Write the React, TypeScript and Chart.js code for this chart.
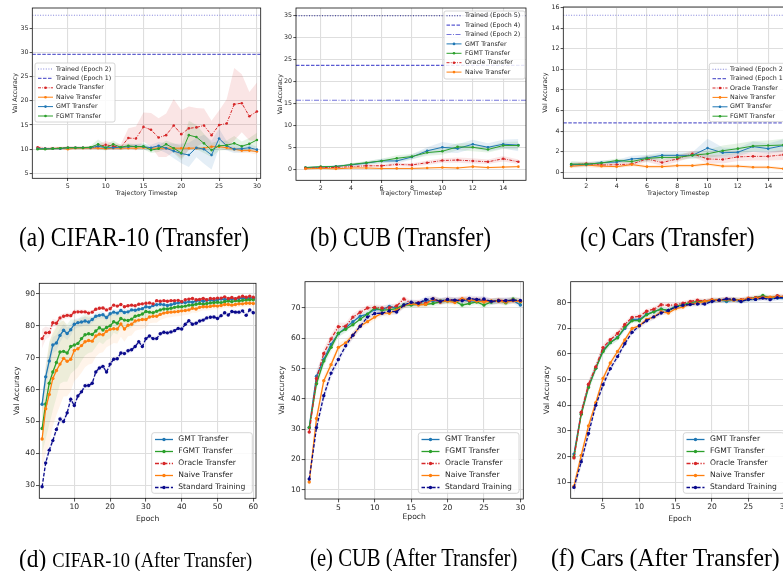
import React, { useEffect, useRef } from 'react';
import { Chart, registerables } from 'chart.js';

Chart.register(...registerables);

const CW = 810;
const CH = 571;
const FONT = '"DejaVu Sans", sans-serif';
const TXT = '#262626';
const GRID = '#dedede';

const BLUE = '#1f77b4';
const ORANGE = '#ff7f0e';
const GREEN = '#2ca02c';
const RED = '#d62728';
const NAVY = '#0a0a8c';

// ---------- (a) CIFAR-10 (Transfer) ----------
const A_steps = [1,2,3,4,5,6,7,8,9,10,11,12,13,14,15,16,17,18,19,20,21,22,23,24,25,26,27,28,29,30];
const A_xTicks = [5,10,15,20,25,30];
const A_yTicks = [5,10,15,20,25,30,35];
const A_trainedE2 = 37.7;
const A_trainedE1 = 29.6;
const A_oracle = [10.4,10.1,10.2,10.2,10.3,10.3,10.3,10.3,10.5,10.9,10.6,10.4,12.3,12.2,14.6,14.0,12.4,12.9,14.9,13.1,14.3,14.5,14.9,12.9,15.0,15.3,19.3,19.5,16.8,17.8];
const A_naive = [10.1,10.1,10.1,10.2,10.0,10.2,10.2,10.2,10.2,10.1,10.2,10.2,10.2,10.2,10.3,10.2,10.2,10.2,10.2,10.2,10.2,10.2,10.2,10.5,10.5,10.3,10.0,9.7,9.7,9.5];
const A_gmt = [10.1,10.1,10.1,10.1,10.3,10.3,10.3,10.3,10.6,10.3,10.3,10.4,10.5,10.6,10.5,10.3,10.7,10.2,9.6,9.1,8.8,10.3,10.0,8.8,12.2,10.7,10.0,10.1,10.3,9.9];
const A_fgmt = [10.0,10.0,10.1,10.2,10.3,10.3,10.3,10.4,11.0,10.3,11.0,10.4,10.7,10.5,10.6,9.8,10.1,11.0,10.2,9.2,12.9,12.5,11.2,9.8,10.7,10.8,11.2,10.6,11.1,11.9];
const A_oracle_sd = [0.3,0.3,0.3,0.3,0.3,0.3,0.3,0.3,0.5,0.8,0.6,0.6,2.0,2.5,3.0,3.5,4.0,4.5,5.5,5.0,4.5,4.0,3.5,3.0,3.0,5.0,7.5,6.0,5.0,6.0];
const A_naive_sd = [0.2,0.2,0.2,0.2,0.2,0.2,0.2,0.2,0.2,0.2,0.2,0.2,0.2,0.2,0.2,0.2,0.2,0.2,0.2,0.2,0.2,0.3,0.3,0.4,0.4,0.4,0.5,0.5,0.5,0.6];
const A_gmt_sd = [0.2,0.2,0.2,0.2,0.2,0.2,0.2,0.2,0.6,0.4,0.4,0.4,0.5,0.5,0.6,0.6,0.8,1.0,1.5,2.0,2.5,2.0,3.0,3.0,2.0,1.0,0.8,0.8,0.8,0.6];
const A_fgmt_sd = [0.2,0.2,0.2,0.2,0.2,0.2,0.2,0.3,1.0,0.6,0.8,0.5,0.5,0.5,0.6,0.6,0.7,0.8,1.0,1.5,3.0,2.5,2.0,1.5,1.0,1.0,1.5,1.0,1.2,1.5];

// ---------- (b) CUB (Transfer) ----------
const B_steps = [1,2,3,4,5,6,7,8,9,10,11,12,13,14,15];
const B_xTicks = [2,4,6,8,10,12,14];
const B_yTicks = [0,5,10,15,20,25,30,35];
const B_trainedE5 = 35.0;
const B_trainedE4 = 23.7;
const B_trainedE2 = 15.8;
const B_gmt = [0.5,0.6,0.8,1.1,1.5,2.0,2.0,2.9,4.3,5.1,4.8,5.8,5.1,5.8,5.6];
const B_fgmt = [0.5,0.7,0.7,1.2,1.6,2.0,2.6,3.0,3.9,4.2,5.2,5.1,4.6,5.5,5.5];
const B_oracle = [0.3,0.5,0.5,0.7,0.9,0.9,1.2,1.1,1.6,2.1,2.2,2.0,1.8,2.5,1.8];
const B_naive = [0.2,0.3,0.2,0.4,0.4,0.3,0.3,0.3,0.4,0.5,0.4,0.7,0.5,0.6,0.7];
const B_gmt_sd = [0.1,0.2,0.2,0.3,0.4,0.5,0.6,0.6,0.8,1.2,1.0,1.0,0.9,1.0,1.4];
const B_fgmt_sd = [0.1,0.2,0.2,0.3,0.4,0.5,0.7,0.6,0.7,0.8,0.8,0.9,0.7,0.8,0.9];
const B_oracle_sd = [0.1,0.1,0.2,0.2,0.3,0.3,0.4,0.4,0.5,0.5,0.6,0.6,0.5,0.6,0.5];
const B_naive_sd = [0.1,0.1,0.1,0.1,0.1,0.1,0.1,0.1,0.1,0.2,0.2,0.2,0.2,0.2,0.2];

// ---------- (c) Cars (Transfer) ----------
const C_steps = [1,2,3,4,5,6,7,8,9,10,11,12,13,14,15];
const C_xTicks = [2,4,6,8,10,12,14];
const C_yTicks = [0,2,4,6,8,10,12,14,16];
const C_trainedE2 = 15.25;
const C_trainedE1 = 4.8;
const C_oracle = [0.7,0.85,0.7,0.75,0.8,1.3,0.95,1.3,1.8,1.3,1.25,1.5,1.55,1.55,1.7];
const C_naive = [0.6,0.7,0.6,0.55,0.75,0.55,0.55,0.65,0.65,0.8,0.6,0.6,0.5,0.5,0.35];
const C_gmt = [0.75,0.75,0.95,1.0,1.3,1.4,1.65,1.65,1.65,2.35,1.9,1.95,2.5,2.3,2.6];
const C_fgmt = [0.8,0.8,0.9,1.15,1.05,1.35,1.45,1.45,1.65,1.8,2.1,2.3,2.55,2.6,2.65];
const C_oracle_sd = [0.2,0.2,0.2,0.2,0.2,0.3,0.3,0.3,0.3,0.4,0.4,0.4,0.4,0.4,0.5];
const C_naive_sd = [0.2,0.2,0.2,0.15,0.15,0.15,0.15,0.15,0.15,0.15,0.15,0.15,0.15,0.15,0.15];
const C_gmt_sd = [0.2,0.2,0.2,0.2,0.3,0.3,0.3,0.3,0.3,0.9,0.5,0.4,0.5,0.5,0.6];
const C_fgmt_sd = [0.3,0.2,0.2,0.2,0.2,0.3,0.3,0.3,0.3,0.4,0.5,0.5,0.5,0.5,0.6];

// ---------- (d) CIFAR-10 (After Transfer) ----------
const D_epochs = [1,2,3,4,5,6,7,8,9,10,11,12,13,14,15,16,17,18,19,20,21,22,23,24,25,26,27,28,29,30,
  31,32,33,34,35,36,37,38,39,40,41,42,43,44,45,46,47,48,49,50,51,52,53,54,55,56,57,58,59,60];
const D_xTicks = [10,20,30,40,50,60];
const D_yTicks = [30,40,50,60,70,80,90];
const D_gmt = [55.4,64.0,69.0,74.0,74.6,77.0,78.6,77.6,78.8,80.5,
  81.0,81.2,81.5,81.2,82.0,83.0,83.3,83.5,82.6,83.8,
  84.3,84.0,84.8,84.2,84.4,85.0,84.9,85.2,85.4,86.0,
  85.8,86.4,86.6,86.8,86.6,86.4,86.6,87.0,87.2,87.4,
  87.3,87.6,87.4,87.8,88.0,87.7,88.0,88.1,87.9,88.2,
  88.4,88.3,88.2,88.5,88.4,88.6,88.7,88.6,88.8,88.6];
const D_fgmt = [47.8,55.5,62.0,65.5,68.5,71.8,72.0,71.5,73.5,74.0,
  74.5,76.0,77.2,77.5,77.3,78.4,79.4,78.7,79.5,80.0,
  81.3,80.8,82.3,81.8,81.7,82.1,83.0,83.3,83.7,84.5,
  84.3,84.1,84.6,85.0,85.3,85.3,85.5,85.8,86.0,86.0,
  86.2,86.5,86.5,86.8,87.0,86.8,87.0,87.2,87.3,87.4,
  87.3,87.6,87.8,87.6,87.9,87.8,88.0,88.1,88.2,88.2];
const D_oracle = [76.0,77.8,77.9,81.0,80.8,82.5,83.0,83.3,83.2,84.3,
  84.4,84.4,84.4,84.0,84.3,85.2,85.5,85.6,85.0,85.4,
  86.5,86.2,86.7,86.0,86.3,86.5,86.3,86.8,86.9,87.1,
  87.2,86.9,87.9,87.7,87.9,87.7,87.9,87.9,88.0,87.6,
  88.2,88.4,88.6,88.2,88.3,88.6,88.2,88.6,88.5,88.7,
  88.7,89.1,88.6,88.9,88.5,89.0,89.3,89.0,89.3,89.0];
const D_naive = [44.5,54.0,58.5,63.5,66.0,68.0,69.8,68.9,69.5,72.3,
  72.8,73.8,75.0,75.4,75.2,76.8,77.4,77.2,78.3,78.9,
  79.1,79.0,80.6,79.0,80.2,80.5,81.5,81.8,82.0,82.0,
  82.8,83.0,83.0,83.6,84.0,84.2,84.3,84.4,84.5,84.7,
  84.8,85.0,85.5,85.3,85.8,86.0,86.0,86.1,86.3,86.2,
  86.4,86.7,86.7,86.5,86.7,86.9,86.9,87.1,87.1,87.0];
const D_standard = [29.5,37.0,41.0,44.0,47.5,50.8,50.0,52.7,57.0,55.0,
  58.0,59.3,61.2,61.3,62.0,65.5,66.8,67.3,65.5,68.0,
  69.5,69.7,71.5,71.3,72.2,72.5,73.5,75.0,73.5,76.0,
  76.8,76.0,76.0,77.5,78.0,77.8,78.1,78.5,79.2,79.0,
  80.5,81.6,80.5,80.8,81.5,81.8,82.5,82.7,82.8,82.3,
  83.2,84.1,83.4,84.5,84.3,84.3,84.7,83.3,85.0,84.1];
const D_gmt_sd = [3,3,3,2.5,2.5,2.2,2,2,1.8,1.6,
  1.5,1.5,1.4,1.3,1.2,1.2,1.1,1.1,1,1,
  1,1,0.9,0.9,0.9,0.8,0.8,0.8,0.8,0.8,
  0.7,0.7,0.7,0.7,0.7,0.7,0.7,0.7,0.7,0.7,
  0.7,0.7,0.7,0.7,0.7,0.7,0.7,0.7,0.7,0.7,
  0.6,0.6,0.6,0.6,0.6,0.6,0.6,0.6,0.6,0.6];
const D_fgmt_sd = [8,11,13,12,11,10,9.5,9,8.5,8,
  7.5,7,6.5,6,5.5,5,4.5,4.5,4,4,
  3.5,3.5,3,3,2.8,2.6,2.4,2.2,2,2,
  1.6,1.6,1.5,1.5,1.4,1.4,1.3,1.3,1.2,1.2,
  1.1,1.1,1,1,1,1,1,1,1,1,
  0.9,0.9,0.9,0.9,0.9,0.9,0.9,0.9,0.9,0.9];
const D_oracle_sd = [3,2,1.5,1.2,1,1,0.9,0.9,0.8,0.8,
  0.7,0.7,0.7,0.7,0.6,0.6,0.6,0.6,0.6,0.6,
  0.5,0.5,0.5,0.5,0.5,0.5,0.5,0.5,0.5,0.5,
  0.5,0.5,0.5,0.5,0.5,0.5,0.5,0.5,0.5,0.5,
  0.5,0.5,0.5,0.5,0.5,0.5,0.5,0.5,0.5,0.5,
  0.5,0.5,0.5,0.5,0.5,0.5,0.5,0.5,0.5,0.5];
const D_naive_sd = [10,14,16,15,14,13,12,11,10,9.5,
  9,8.5,8,7.5,7,6.5,6,5.5,5,5,
  4.5,4.5,4,4,3.5,3.5,3,3,3,2.5,
  2,2,2,1.8,1.8,1.6,1.6,1.5,1.5,1.5,
  1.4,1.4,1.3,1.3,1.3,1.2,1.2,1.2,1.1,1.1,
  1,1,1,1,1,1,1,1,1,1];
const D_standard_sd = [1.2,1.2,1.2,1.1,1.1,1,1,1,1,1,
  0.8,0.8,0.8,0.8,0.8,0.8,0.8,0.8,0.8,0.8,
  0.8,0.8,0.8,0.8,0.8,0.8,0.8,0.8,0.8,0.8,
  0.7,0.7,0.7,0.7,0.7,0.7,0.7,0.7,0.7,0.7,
  0.7,0.7,0.7,0.7,0.7,0.7,0.7,0.7,0.7,0.7,
  0.7,0.7,0.7,0.7,0.7,0.7,0.7,0.7,0.7,0.7];

// ---------- (e) CUB (After Transfer) ----------
const E_epochs = [1,2,3,4,5,6,7,8,9,10,11,12,13,14,15,16,17,18,19,20,21,22,23,24,25,26,27,28,29,30];
const E_xTicks = [5,10,15,20,25,30];
const E_yTicks = [10,20,30,40,50,60,70];
const E_gmt = [30.5,47.5,53,58,61.5,63.5,65.5,67.3,68,69.5,69.5,70.5,70,71,71.5,71.5,72.5,72.3,72.5,72.5,72.4,72.6,72.3,72.4,72.5,72,72.3,72.5,72.5,71];
const E_fgmt = [30.5,45,52.5,57,61.7,63,64.5,66.3,68,70,69.3,69.5,69.8,71,71,71.3,71.2,71.5,72,72.3,72.3,71,71.5,72,71,72,72.5,71.7,73,72];
const E_oracle = [29,46.7,55,59.8,63.8,64,67,68.6,70,70.2,70,70.1,70.7,73,71.6,71.8,71.6,72.8,72,72.8,72.5,73,72.5,72.8,72.6,72.2,72.6,72.4,72.6,72.2];
const E_naive = [12.5,33.5,46,51.3,57,58.5,61,64,65.5,67,68.3,68.3,69.3,70.8,71.5,71,71.2,73,72.3,72.3,71.8,73,72.8,72.3,72,72.3,72.2,72,72.4,72.2];
const E_standard = [13.5,30.5,41,48.5,53,57.5,61,64,67,68.2,68.3,69,68.7,71,71.9,71.6,72.8,73.1,72.2,72.8,72.6,72.4,73.2,72.8,73,72.2,72.4,72.4,72.6,72.5];
const E_spread = [2.5,2,1.8,1.5,1.3,1.2,1.2,1.1,1,1,1,1,1,1,1,1,1,1,1,1,1,1,1,1,1,1,1,1,1,1];

// ---------- (f) Cars (After Transfer) ----------
const F_epochs = [1,2,3,4,5,6,7,8,9,10,11,12,13,14,15,16,17,18,19,20,21,22,23,24,25,26,27,28,29,30];
const F_xTicks = [5,10,15,20,25,30];
const F_yTicks = [10,20,30,40,50,60,70,80];
const F_gmt = [21,37,47.5,54.5,61.5,64.5,66.5,70,73.5,73.5,75.5,76.5,77.5,77,78.7,79,79.5,80,80.5,80.7,81,80.5,81,80.5,81.2,81.3,82,81.5,81.8,81.6];
const F_fgmt = [20,36.5,47,54.5,61,64.5,66.3,70.5,73,73,75.3,76.5,77.5,77,78.5,79.3,80,80.5,80.5,81,81,81,81.3,81,81.5,82,82.8,82,82.5,82];
const F_oracle = [19.5,37.3,48.2,55,62.5,65.6,68,71.5,74.3,74.7,76.7,77.5,79.2,79,79.2,79.8,80.5,81,80.7,81.2,81,81.5,81.3,81.2,81.8,82,82.2,82,82.7,82.5];
const F_naive = [8.5,20.5,32,41,50.5,56.5,61,65.5,70,71,73.5,74.5,76.5,76,77.7,78.3,79.5,79.8,80.5,81,81,81.2,81,81,81.6,81.7,82,82.2,82.3,82.3];
const F_standard = [8,18,29,40,48,54.3,59,64,68.5,71,73,74.5,76,77,78.3,79,79.3,79.5,79.5,80.5,81,81.5,81.3,80.5,81.3,81.3,81.8,81.2,82,82];
const F_spread = [2.5,2,1.8,1.6,1.4,1.3,1.2,1.1,1,1,1,1,1,1,1,0.9,0.9,0.9,0.9,0.9,0.9,0.9,0.9,0.9,0.9,0.9,0.9,0.9,0.9,0.9];

const CAPTIONS_TOP = ['(a) CIFAR-10 (Transfer)', '(b) CUB (Transfer)', '(c) Cars (Transfer)'];

// ---------- line styles ----------
const DOT = [1, 1.6];
const DASH = [3.5, 1.5];
const DASHDOT_T = [5, 1.5, 1, 1.5];
const ORACLE_T = [3, 1.3, 0.8, 1.3];
const ORACLE_B = [4, 1.6, 1.2, 1.6];
const STD_DASH = [3.5, 1.8];

type Item = { label: string; color: string; dash?: number[]; values?: number[]; sd?: number[]; level?: number; width?: number };
type LegendBox = { x: number; y: number; w: number; h: number; row0: number; rowH: number; h0: number; h1: number; tx: number; r: number };
type Panel = {
  L: number; T: number; R: number; B: number;
  xMin: number; xMax: number; yMin: number; yMax: number;
  xs: number[]; xTicks: number[]; yTicks: number[];
  font: number; xTitle: string; yTitle: string; yTitleX: number; xTitleY: number;
  lineW: number; markerR: number; tickLen: number; tickPad: number; bandAlpha: number;
  items: Item[]; legend: LegendBox;
};

const TOP = { font: 6.3, lineW: 1.0, markerR: 1.3, tickLen: 2.7, tickPad: 1.2, bandAlpha: 0.12 };
const BOT = { font: 7.6, lineW: 1.3, markerR: 1.7, tickLen: 3.3, tickPad: 1.0, bandAlpha: 0.085 };

const panels: Panel[] = [
  {
    ...TOP, L: 32.3, T: 8, R: 260.7, B: 178.3, xMin: 0.3, xMax: 30.5, yMin: 3.97, yMax: 39.2,
    xs: A_steps, xTicks: A_xTicks, yTicks: A_yTicks, xTitle: 'Trajectory Timestep', yTitle: 'Val Accuracy', yTitleX: 15, xTitleY: 193.3,
    items: [
      { label: 'Trained (Epoch 2)', color: '#8282da', dash: DOT, level: A_trainedE2, width: 1.1 },
      { label: 'Trained (Epoch 1)', color: '#6262cf', dash: DASH, level: A_trainedE1, width: 1.2 },
      { label: 'Oracle Transfer', color: RED, dash: ORACLE_T, values: A_oracle, sd: A_oracle_sd },
      { label: 'Naive Transfer', color: ORANGE, values: A_naive, sd: A_naive_sd },
      { label: 'GMT Transfer', color: BLUE, values: A_gmt, sd: A_gmt_sd },
      { label: 'FGMT Transfer', color: GREEN, values: A_fgmt, sd: A_fgmt_sd },
    ],
    legend: { x: 35, y: 63, w: 80, h: 59, row0: 69, rowH: 9.4, h0: 38, h1: 53, tx: 56, r: 2 },
  },
  {
    ...TOP, L: 296, T: 8, R: 526, B: 180.3, xMin: 0.375, xMax: 15.5, yMin: -2.4, yMax: 36.75,
    xs: B_steps, xTicks: B_xTicks, yTicks: B_yTicks, xTitle: 'Trajectory Timestep', yTitle: 'Val Accuracy', yTitleX: 280, xTitleY: 193,
    items: [
      { label: 'Trained (Epoch 5)', color: '#22228a', dash: DOT, level: B_trainedE5, width: 1.1 },
      { label: 'Trained (Epoch 4)', color: '#5a5ad2', dash: DASH, level: B_trainedE4, width: 1.2 },
      { label: 'Trained (Epoch 2)', color: '#7676da', dash: DASHDOT_T, level: B_trainedE2, width: 1.1 },
      { label: 'GMT Transfer', color: BLUE, values: B_gmt, sd: B_gmt_sd },
      { label: 'FGMT Transfer', color: GREEN, values: B_fgmt, sd: B_fgmt_sd },
      { label: 'Oracle Transfer', color: RED, dash: ORACLE_T, values: B_oracle, sd: B_oracle_sd },
      { label: 'Naive Transfer', color: ORANGE, values: B_naive, sd: B_naive_sd },
    ],
    legend: { x: 444, y: 11, w: 81, h: 68, row0: 15.7, rowH: 9.4, h0: 446.5, h1: 461.5, tx: 465, r: 2 },
  },
  {
    ...TOP, L: 563.3, T: 7, R: 793, B: 178.3, xMin: 0.48, xMax: 15.64, yMin: -0.58, yMax: 16.05,
    xs: C_steps, xTicks: C_xTicks, yTicks: C_yTicks, xTitle: 'Trajectory Timestep', yTitle: 'Val Accuracy', yTitleX: 545, xTitleY: 193,
    items: [
      { label: 'Trained (Epoch 2)', color: '#8282da', dash: DOT, level: C_trainedE2, width: 1.1 },
      { label: 'Trained (Epoch 1)', color: '#6262cf', dash: DASH, level: C_trainedE1, width: 1.2 },
      { label: 'Oracle Transfer', color: RED, dash: ORACLE_T, values: C_oracle, sd: C_oracle_sd },
      { label: 'Naive Transfer', color: ORANGE, values: C_naive, sd: C_naive_sd },
      { label: 'GMT Transfer', color: BLUE, values: C_gmt, sd: C_gmt_sd },
      { label: 'FGMT Transfer', color: GREEN, values: C_fgmt, sd: C_fgmt_sd },
    ],
    legend: { x: 709.3, y: 63.3, w: 80, h: 58.4, row0: 69.2, rowH: 9.4, h0: 712.5, h1: 727.5, tx: 730, r: 2 },
  },
  {
    ...BOT, L: 39.3, T: 283.3, R: 256, B: 498.3, xMin: 0.22, xMax: 60.75, yMin: 25.9, yMax: 93.35,
    xs: D_epochs, xTicks: D_xTicks, yTicks: D_yTicks, xTitle: 'Epoch', yTitle: 'Val Accuracy', yTitleX: 16.7, xTitleY: 519,
    items: [
      { label: 'GMT Transfer', color: BLUE, values: D_gmt, sd: D_gmt_sd },
      { label: 'FGMT Transfer', color: GREEN, values: D_fgmt, sd: D_fgmt_sd },
      { label: 'Oracle Transfer', color: RED, dash: ORACLE_B, values: D_oracle, sd: D_oracle_sd },
      { label: 'Naive Transfer', color: ORANGE, values: D_naive, sd: D_naive_sd },
      { label: 'Standard Training', color: NAVY, dash: STD_DASH, values: D_standard, sd: D_standard_sd },
    ],
    legend: { x: 151.7, y: 432.7, w: 100.6, h: 60.6, row0: 439.5, rowH: 12, h0: 155, h1: 173, tx: 178.3, r: 2.5 },
  },
  {
    ...BOT, L: 305, T: 281.7, R: 523.3, B: 499, xMin: 0.42, xMax: 30.4, yMin: 6.9, yMax: 78.7,
    xs: E_epochs, xTicks: E_xTicks, yTicks: E_yTicks, xTitle: 'Epoch', yTitle: 'Val Accuracy', yTitleX: 281.7, xTitleY: 517,
    items: [
      { label: 'GMT Transfer', color: BLUE, values: E_gmt, sd: E_spread },
      { label: 'FGMT Transfer', color: GREEN, values: E_fgmt, sd: E_spread },
      { label: 'Oracle Transfer', color: RED, dash: ORACLE_B, values: E_oracle, sd: E_spread },
      { label: 'Naive Transfer', color: ORANGE, values: E_naive, sd: E_spread },
      { label: 'Standard Training', color: NAVY, dash: STD_DASH, values: E_standard, sd: E_spread },
    ],
    legend: { x: 418.3, y: 432.7, w: 100.7, h: 60.6, row0: 439.5, rowH: 12, h0: 421.5, h1: 439.5, tx: 445, r: 2.5 },
  },
  {
    ...BOT, L: 570.7, T: 281.7, R: 789, B: 498.3, xMin: 0.55, xMax: 30.6, yMin: 3.76, yMax: 88.2,
    xs: F_epochs, xTicks: F_xTicks, yTicks: F_yTicks, xTitle: 'Epoch', yTitle: 'Val Accuracy', yTitleX: 546.7, xTitleY: 519,
    items: [
      { label: 'GMT Transfer', color: BLUE, values: F_gmt, sd: F_spread },
      { label: 'FGMT Transfer', color: GREEN, values: F_fgmt, sd: F_spread },
      { label: 'Oracle Transfer', color: RED, dash: ORACLE_B, values: F_oracle, sd: F_spread },
      { label: 'Naive Transfer', color: ORANGE, values: F_naive, sd: F_spread },
      { label: 'Standard Training', color: NAVY, dash: STD_DASH, values: F_standard, sd: F_spread },
    ],
    legend: { x: 683.3, y: 432.7, w: 101, h: 60.6, row0: 439.5, rowH: 12, h0: 686.5, h1: 704.5, tx: 710, r: 2.5 },
  },
];

function rgba(hex: string, a: number) {
  const n = parseInt(hex.slice(1), 16);
  return `rgba(${(n >> 16) & 255},${(n >> 8) & 255},${n & 255},${a})`;
}

const framePlugin = {
  id: 'mplFrame',
  afterDatasetsDraw(chart: any) {
    const { ctx, chartArea: a } = chart;
    ctx.save();
    ctx.strokeStyle = '#111';
    ctx.lineWidth = 0.8;
    ctx.setLineDash([]);
    ctx.strokeRect(a.left, a.top, a.right - a.left, a.bottom - a.top);
    ctx.restore();
  },
};

function legendPlugin(p: Panel) {
  return {
    id: 'mplLegend',
    afterDraw(chart: any) {
      const ctx = chart.ctx;
      const g = p.legend;
      ctx.save();
      ctx.beginPath();
      const { x, y, w, h, r } = g;
      ctx.moveTo(x + r, y);
      ctx.lineTo(x + w - r, y);
      ctx.arcTo(x + w, y, x + w, y + r, r);
      ctx.lineTo(x + w, y + h - r);
      ctx.arcTo(x + w, y + h, x + w - r, y + h, r);
      ctx.lineTo(x + r, y + h);
      ctx.arcTo(x, y + h, x, y + h - r, r);
      ctx.lineTo(x, y + r);
      ctx.arcTo(x, y, x + r, y, r);
      ctx.closePath();
      ctx.fillStyle = 'rgba(255,255,255,0.85)';
      ctx.fill();
      ctx.strokeStyle = '#cccccc';
      ctx.lineWidth = 0.8;
      ctx.stroke();
      const items = chart.data.datasets.filter((d: any) => d.inLegend);
      items.forEach((d: any, i: number) => {
        const cy = g.row0 + i * g.rowH;
        ctx.beginPath();
        ctx.setLineDash(d.borderDash || []);
        ctx.strokeStyle = d.borderColor;
        ctx.lineWidth = d.borderWidth;
        ctx.moveTo(g.h0, cy);
        ctx.lineTo(g.h1, cy);
        ctx.stroke();
        ctx.setLineDash([]);
        if (d.marker) {
          ctx.beginPath();
          ctx.fillStyle = d.borderColor;
          ctx.arc((g.h0 + g.h1) / 2, cy, p.markerR, 0, Math.PI * 2);
          ctx.fill();
        }
        ctx.fillStyle = TXT;
        ctx.font = `${p.font}px ${FONT}`;
        ctx.textBaseline = 'middle';
        ctx.textAlign = 'left';
        ctx.fillText(d.label, g.tx, cy);
      });
      ctx.restore();
    },
  };
}

function buildConfig(p: Panel): any {
  const lh = p.font * 1.2;
  const yw = p.L - (p.yTitleX - lh / 2);
  const xh = p.xTitleY + lh / 2 - p.B;
  const datasets: any[] = [];
  p.items.forEach((it, i) => {
    const common = {
      label: it.label, borderColor: it.color, backgroundColor: it.color,
      borderDash: it.dash || [], borderWidth: it.width ?? p.lineW,
      inLegend: true, order: 100 - i, fill: false, tension: 0,
    };
    if (it.level !== undefined) {
      datasets.push({ ...common, marker: false, pointRadius: 0,
        data: [{ x: p.xMin, y: it.level }, { x: p.xMax, y: it.level }] });
    } else {
      datasets.push({ ...common, marker: true, pointRadius: p.markerR, pointBorderWidth: 0,
        pointBackgroundColor: it.color,
        data: p.xs.map((x, j) => ({ x, y: it.values![j] })) });
    }
  });
  p.items.forEach((it) => {
    if (!it.sd || !it.values) return;
    datasets.push({
      label: '', borderColor: 'rgba(0,0,0,0)', borderWidth: 0, pointRadius: 0, order: 1000,
      fill: '+1', backgroundColor: rgba(it.color, p.bandAlpha),
      data: p.xs.map((x, j) => ({ x, y: it.values![j] + it.sd![j] })),
    });
    datasets.push({
      label: '', borderColor: 'rgba(0,0,0,0)', borderWidth: 0, pointRadius: 0, order: 1000,
      fill: false,
      data: p.xs.map((x, j) => ({ x, y: it.values![j] - it.sd![j] })),
    });
  });
  const font = { family: FONT, size: p.font };
  const axisCommon = {
    type: 'linear', bounds: 'data',
    grid: { color: GRID, lineWidth: 1.1, drawTicks: true, tickLength: p.tickLen, tickColor: '#222', tickWidth: 0.8 },
    border: { display: false },
    ticks: { autoSkip: false, maxRotation: 0, padding: p.tickPad, color: TXT, font },
  };
  return {
    type: 'line',
    data: { datasets },
    options: {
      responsive: false, animation: false, devicePixelRatio: 1, events: [],
      layout: { padding: { left: p.yTitleX - lh / 2, top: p.T, right: CW - p.R, bottom: CH - p.B - xh } },
      plugins: { legend: { display: false }, tooltip: { enabled: false } },
      scales: {
        x: {
          ...axisCommon, position: 'bottom', min: p.xMin, max: p.xMax,
          afterBuildTicks: (s: any) => { s.ticks = p.xTicks.map((v) => ({ value: v })); },
          afterFit: (s: any) => { s.height = xh; },
          title: { display: true, text: p.xTitle, color: TXT, padding: 0, font },
        },
        y: {
          ...axisCommon, position: 'left', min: p.yMin, max: p.yMax,
          afterBuildTicks: (s: any) => { s.ticks = p.yTicks.map((v) => ({ value: v })); },
          afterFit: (s: any) => { s.width = yw; },
          title: { display: true, text: p.yTitle, color: TXT, padding: 0, font },
        },
      },
    },
    plugins: [framePlugin, legendPlugin(p)],
  };
}

function PanelCanvas({ p }: { p: Panel }) {
  const ref = useRef<HTMLCanvasElement | null>(null);
  useEffect(() => {
    if (!ref.current) return;
    const chart = new Chart(ref.current, buildConfig(p));
    return () => chart.destroy();
  }, [p]);
  return <canvas ref={ref} width={CW} height={CH} style={{ position: 'absolute', left: 0, top: 0, width: CW, height: CH }} />;
}

const serif = '"Liberation Serif", "Times New Roman", serif';

function Caption({ left, top, size, scaleY, children }: any) {
  return (
    <div style={{
      position: 'absolute', left, top, fontFamily: serif, fontSize: size, lineHeight: 1,
      whiteSpace: 'nowrap', color: '#000', transformOrigin: 'left top', transform: `scaleY(${scaleY})`,
    }}>{children}</div>
  );
}

export default function App() {
  return (
    <div style={{ position: 'fixed', left: 0, top: 0, width: 783, height: 571, overflow: 'hidden', background: '#fff' }}>
      {panels.map((p, i) => <PanelCanvas key={i} p={p} />)}
      <Caption left={19} top={223} size={23.4} scaleY={1.2}>{CAPTIONS_TOP[0]}</Caption>
      <Caption left={310} top={223} size={23.4} scaleY={1.2}>{CAPTIONS_TOP[1]}</Caption>
      <Caption left={580} top={223} size={23.4} scaleY={1.2}>{CAPTIONS_TOP[2]}</Caption>
      <Caption left={19} top={546} size={23.4} scaleY={1.1}>
        (d) <span style={{ fontSize: 18.5 }}>CIFAR-10 (After Transfer)</span>
      </Caption>
      <Caption left={310} top={546} size={20.7} scaleY={1.17}>(e) CUB (After Transfer)</Caption>
      <Caption left={551} top={546} size={23.6} scaleY={1.05}>(f) Cars (After Transfer)</Caption>
    </div>
  );
}
